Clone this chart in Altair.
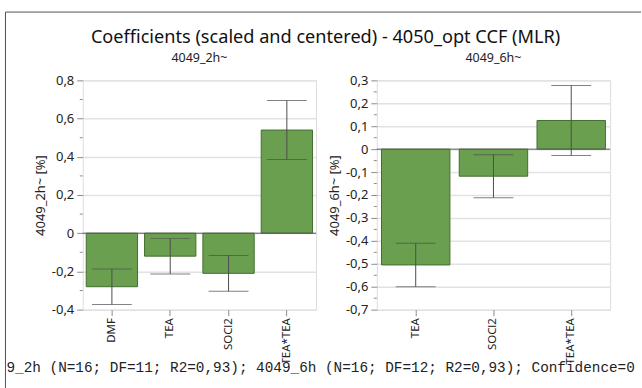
import altair as alt
import pandas as pd

# ---- coefficients (scaled and centered) with confidence half-widths ----
terms_2h = ["DMF", "TEA", "SOCl2", "TEA*TEA"]
coef_2h = [-0.28, -0.12, -0.21, 0.54]
ci_2h = [0.093, 0.093, 0.094, 0.154]

terms_6h = ["TEA", "SOCl2", "TEA*TEA"]
coef_6h = [-0.505, -0.118, 0.125]
ci_6h = [0.095, 0.094, 0.153]

# ---- axis ticks ----
ticks_2h = [-0.4, -0.2, 0.0, 0.2, 0.4, 0.6, 0.8]
minor_2h = [-0.3, -0.1, 0.1, 0.3, 0.5, 0.7]
ticks_6h = [-0.7, -0.6, -0.5, -0.4, -0.3, -0.2, -0.1, 0.0, 0.1, 0.2, 0.3]
minor_6h = [-0.65, -0.55, -0.45, -0.35, -0.25, -0.15, -0.05, 0.05, 0.15, 0.25]

# ---- texts ----
main_title = ["Coefficients (scaled and centered) - 4050_opt CCF (MLR)"]
footer = ["9_2h (N=16; DF=11; R2=0,93); 4049_6h (N=16; DF=12; R2=0,93); Confidence=0"]

FONT = "Noto Sans"
BAR_FILL = "#6a9f50"
BAR_STROKE = "#436d30"
ERR = "#4d4d4d"
W, H = 234, 230

LABEL_EXPR = ("abs(datum.value) < 1e-9 ? '0' : (datum.value < 0 ? '-' : '') + "
              "replace(format(abs(datum.value), '.1f'), '.', ',')")


def panel(terms, coef, ci, domain, ticks, minor, ylabel, subtitle, extras=None):
    df = pd.DataFrame({"term": terms, "coef": coef, "ci": ci})
    base = alt.Chart(df).transform_calculate(
        lo="datum.coef - datum.ci", hi="datum.coef + datum.ci"
    )
    ysc = alt.Scale(domain=domain, nice=False, zero=False)
    yaxis = alt.Axis(values=ticks, labelExpr=LABEL_EXPR, labelFont=FONT,
                     labelFontSize=13, labelColor="#222", labelPadding=3,
                     tickSize=6, tickColor="#8c8c8c", domain=False,
                     grid=True, gridColor="#e2e2e2", gridWidth=1.5,
                     titleFont=FONT, titleFontSize=13, titleFontWeight="normal",
                     titleColor="#222", titlePadding=4)

    def yenc(field):
        return alt.Y(field, scale=ysc, title=ylabel, axis=yaxis)

    x = alt.X(
        "term:N", sort=terms, title=None,
        scale=alt.Scale(paddingInner=0.12, paddingOuter=0.06),
        axis=alt.Axis(labelAngle=-90, labelFont=FONT, labelFontSize=11.5,
                      labelColor="#222", labelPadding=2, tickSize=6,
                      tickColor="#8c8c8c", domain=False, grid=False),
    )
    bars = base.mark_bar(fill=BAR_FILL, stroke=BAR_STROKE, strokeWidth=1).encode(
        x=x, y=yenc("coef:Q")
    )
    err = base.mark_rule(color=ERR, strokeWidth=1).encode(
        x=x, y=yenc("lo:Q"), y2="hi:Q"
    )
    cap_lo = base.mark_tick(color=ERR, size=40, thickness=1, orient="horizontal").encode(
        x=x, y=yenc("lo:Q")
    )
    cap_hi = base.mark_tick(color=ERR, size=40, thickness=1, orient="horizontal").encode(
        x=x, y=yenc("hi:Q")
    )
    zero = alt.Chart(pd.DataFrame({"v": [0.0]})).mark_rule(
        color="#5a5a5a", strokeWidth=1
    ).encode(y=yenc("v:Q"))
    minor_ticks = alt.Chart(pd.DataFrame({"v": minor})).mark_rule(
        color="#8c8c8c", strokeWidth=1
    ).encode(y=yenc("v:Q"), x=alt.value(-3), x2=alt.value(0))
    sub = alt.Chart(pd.DataFrame({"t": [subtitle]})).mark_text(
        font=FONT, fontSize=12.5, color="#222", align="center", baseline="middle"
    ).encode(text="t:N", x=alt.value(W / 2), y=alt.value(-22))

    layers = [bars, zero, err, cap_lo, cap_hi, minor_ticks, sub]
    if extras:
        layers += extras
    return alt.layer(*layers).properties(width=W, height=H)


# window frame, heading and footer strip, placed around the first panel
frame_left = alt.Chart(pd.DataFrame({"a": [0]})).mark_rule(
    color="#505050", strokeWidth=1
).encode(x=alt.value(-77.5), y=alt.value(-68.5), y2=alt.value(309.5))
frame_top = alt.Chart(pd.DataFrame({"a": [0]})).mark_rule(
    color="#505050", strokeWidth=1
).encode(x=alt.value(-77.5), x2=alt.value(560), y=alt.value(-68.5))
heading = alt.Chart(pd.DataFrame({"t": main_title})).mark_text(
    font=FONT, fontSize=18.2, color="#111", align="center", baseline="middle"
).encode(text="t:N", x=alt.value(243.5), y=alt.value(-42))
foot_strip = alt.Chart(pd.DataFrame({"a": [0]})).mark_rect(fill="white").encode(
    x=alt.value(-77), x2=alt.value(560), y=alt.value(283), y2=alt.value(309)
)
foot = alt.Chart(pd.DataFrame({"t": footer})).mark_text(
    font="Liberation Mono", fontSize=14.4, color="#222", align="left", baseline="middle"
).encode(text="t:N", x=alt.value(-76.5), y=alt.value(289))

left = panel(terms_2h, coef_2h, ci_2h, [-0.4, 0.8], ticks_2h, minor_2h,
             "4049_2h~ [%]", "4049_2h~",
             extras=[frame_left, frame_top, heading, foot_strip, foot])
right = panel(terms_6h, coef_6h, ci_6h, [-0.7, 0.3], ticks_6h, minor_6h,
              "4049_6h~ [%]", "4049_6h~")

chart = alt.hconcat(left, right, spacing=61, bounds="flush").properties(
    padding={"left": 4, "top": 10, "right": 0, "bottom": 0}
).configure_view(stroke="#8f8f8f", strokeWidth=1).configure(background="white")

chart.save("out.html", embed_options={"renderer": "svg", "actions": False})
